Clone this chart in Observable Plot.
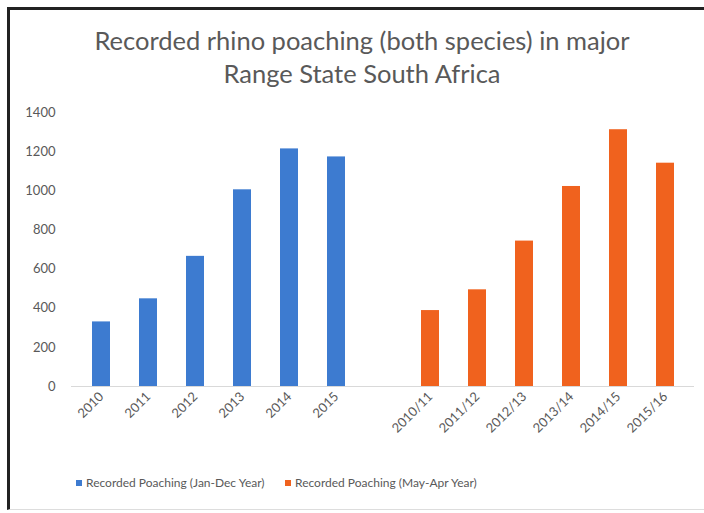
<!DOCTYPE html>
<html>
<head>
<meta charset="utf-8">
<script src="https://cdn.jsdelivr.net/npm/d3@7"></script>
<script src="https://cdn.jsdelivr.net/npm/@observablehq/plot@0.6"></script>
<style>
  html, body { margin: 0; padding: 0; background: #fff; }
  body { width: 704px; height: 513px; position: relative; overflow: hidden; font-family: Lato, "Open Sans", sans-serif; }
  #frame { position: absolute; left: 7px; top: 7px; width: 710px; height: 499px; border-left: 3px solid #222; border-top: 3px solid #222; border-bottom: 1px solid #ddd; }
  #title { position: absolute; left: 0; width: 724px; top: 24px; text-align: center; font-size: 25.5px; line-height: 33px; color: #595959; }
  #chart { position: absolute; left: 0; top: 100px; }
  .leg { position: absolute; top: 475px; font-size: 12px; color: #595959; white-space: nowrap; }
  .leg span.sw { display: inline-block; width: 6px; height: 6px; margin-right: 4px; vertical-align: middle; position: relative; top: -1px; }
</style>
</head>
<body>
<div id="frame"></div>
<div id="title">Recorded rhino poaching (both species) in major<br>Range State South Africa</div>
<div id="chart"></div>
<div class="leg" id="leg1" style="left:76px"></div>
<div class="leg" id="leg2" style="left:285px"></div>
<script>
const calendarYears = ["2010", "2011", "2012", "2013", "2014", "2015"];
const calendarValues = [330, 448, 665, 1005, 1214, 1173];
const financialYears = ["2010/11", "2011/12", "2012/13", "2013/14", "2014/15", "2015/16"];
const financialValues = [388, 494, 743, 1022, 1312, 1141];
const seriesNames = ["Recorded Poaching (Jan-Dec Year)", "Recorded Poaching (May-Apr Year)"];
const seriesColors = ["#3d7bd0", "#f0621e"];
const yTicks = [0, 200, 400, 600, 800, 1000, 1200, 1400];
const gapCategory = "";

const data = [
  ...calendarYears.map((c, i) => ({cat: c, value: calendarValues[i], series: seriesNames[0]})),
  ...financialYears.map((c, i) => ({cat: c, value: financialValues[i], series: seriesNames[1]}))
];
const domain = [...calendarYears, gapCategory, ...financialYears];

const chart = Plot.plot({
  width: 704,
  height: 360,
  marginLeft: 71,
  marginRight: 10,
  marginTop: 12,
  marginBottom: 74,
  style: {fontFamily: "Lato, 'Open Sans', sans-serif", fontSize: "13px", color: "#595959", background: "transparent"},
  x: {domain, paddingInner: 0.62, paddingOuter: 0.31, label: null, tickSize: 0, tickPadding: 8, tickRotate: -45},
  y: {domain: [0, 1400], ticks: yTicks, tickFormat: d => String(d), label: null, tickSize: 0, tickPadding: 16},
  color: {domain: seriesNames, range: seriesColors},
  marks: [
    Plot.barY(data, {x: "cat", y: "value", fill: "series"}),
    Plot.ruleY([0], {stroke: "#d9d9d9", strokeWidth: 1})
  ]
});
chart.querySelectorAll("text").forEach(t => t.setAttribute("fill", "#595959"));
document.getElementById("chart").appendChild(chart);

["leg1", "leg2"].forEach((id, i) => {
  const el = document.getElementById(id);
  const sw = document.createElement("span");
  sw.className = "sw";
  sw.style.background = seriesColors[i];
  el.appendChild(sw);
  el.appendChild(document.createTextNode(seriesNames[i]));
});
</script>
</body>
</html>
